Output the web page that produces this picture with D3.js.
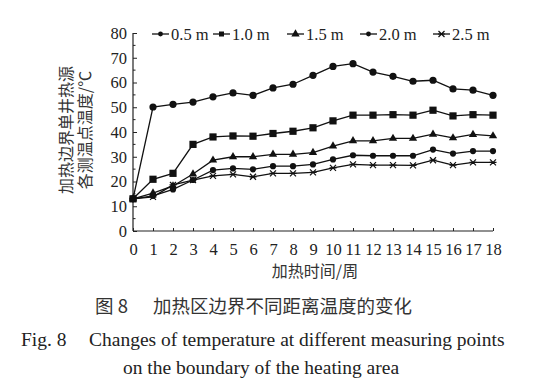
<!DOCTYPE html>
<html><head><meta charset="utf-8">
<script src="https://cdn.jsdelivr.net/npm/d3@7"></script>
<style>
html,body{margin:0;padding:0;background:#fff;}
svg{display:block;}
</style></head>
<body>
<svg id="c" width="560" height="392"></svg>
<script>
const weeks = d3.range(0, 19);
const seriesNames = ["0.5 m", "1.0 m", "1.5 m", "2.0 m", "2.5 m"];
const s05 = [13, 50.1, 51.2, 52.1, 54.2, 55.8, 54.8, 57.8, 59.3, 62.9, 66.5, 67.6, 64.2, 62.5, 60.5, 60.9, 57.4, 56.9, 54.8];
const s10 = [13, 20.9, 23.3, 35.0, 38.0, 38.4, 38.3, 39.4, 40.3, 41.7, 44.5, 46.8, 46.8, 47.0, 46.8, 48.8, 46.5, 47.0, 46.8];
const s15 = [13, 15.3, 18.2, 23.0, 28.6, 30.0, 30.0, 31.0, 31.0, 31.7, 34.3, 36.4, 36.4, 37.4, 37.4, 39.1, 37.6, 39.0, 38.4];
const s20 = [13, 14.2, 16.8, 20.6, 24.6, 25.3, 24.9, 26.2, 26.2, 26.9, 28.9, 30.6, 30.4, 30.4, 30.4, 32.9, 31.3, 32.3, 32.3];
const s25 = [13, 13.8, 18.6, 20.6, 22.3, 22.9, 21.9, 23.3, 23.3, 23.7, 25.5, 26.9, 26.6, 26.6, 26.5, 28.6, 26.6, 27.7, 27.7];
const yTicks = [0, 10, 20, 30, 40, 50, 60, 70, 80];
const xTicks = d3.range(0, 19);
const yTitle = ["加热边界单井热源", "各测温点温度/℃"];
const xTitle = "加热时间/周";
const captionCNLabel = "图 8";
const captionCN = "加热区边界不同距离温度的变化";
const captionENLabel = "Fig. 8";
const captionEN1 = "Changes of temperature at different measuring points";
const captionEN2 = "on the boundary of the heating area";

const allSeries = [s05, s10, s15, s20, s25];
const markers = ["circle", "square", "triangle", "dot", "star"];

const svg = d3.select("#c");
const serif = "'Liberation Serif','Times New Roman',serif";
const cjk = "'Noto Sans CJK SC','Noto Sans CJK JP',sans-serif";

const L = 133, R = 493, T = 33, B = 231;
const x = d3.scaleLinear().domain([0, 18]).range([L, R]);
const y = d3.scaleLinear().domain([0, 80]).range([B, T]);

// axes
const gx = svg.append("g").attr("transform", `translate(0,${B})`)
  .call(d3.axisBottom(x).tickValues(xTicks).tickSize(-3).tickPadding(12).tickFormat(d3.format("d")));
const gy = svg.append("g").attr("transform", `translate(${L},0)`)
  .call(d3.axisLeft(y).tickValues(yTicks).tickSize(-4).tickPadding(6));
// minor y ticks
svg.append("g").selectAll("line").data(d3.range(5, 80, 10)).join("line")
  .attr("x1", L).attr("x2", L + 2.5).attr("y1", d => y(d)).attr("y2", d => y(d))
  .attr("stroke", "#222").attr("stroke-width", 1);
[gx, gy].forEach(g => {
  g.attr("font-family", serif);
  g.select(".domain").attr("stroke", "#222").attr("stroke-width", 1.2);
  g.selectAll(".tick line").attr("stroke", "#222");
  g.selectAll("text").attr("font-family", serif).attr("font-size", 16.5).attr("fill", "#222");
});
gx.select(".domain").attr("d", `M${L},0H${R}`);
gy.select(".domain").attr("d", `M0,${B}V${T}`);

// marker drawer
function drawMarker(g, type, cx, cy) {
  const c = "#111";
  if (type === "circle") g.append("circle").attr("cx", cx).attr("cy", cy).attr("r", 3.6).attr("fill", c);
  else if (type === "square") g.append("rect").attr("x", cx - 3.6).attr("y", cy - 3.6).attr("width", 7.2).attr("height", 7.2).attr("fill", c);
  else if (type === "triangle") g.append("path").attr("d", d3.symbol(d3.symbolTriangle, 30)()).attr("transform", `translate(${cx},${cy})`).attr("fill", c);
  else if (type === "dot") g.append("circle").attr("cx", cx).attr("cy", cy).attr("r", 3.1).attr("fill", c);
  else if (type === "star") {
    g.append("path").attr("d", `M${cx - 3},${cy - 3}L${cx + 3},${cy + 3}M${cx - 3},${cy + 3}L${cx + 3},${cy - 3}M${cx - 3.5},${cy}L${cx + 3.5},${cy}`)
      .attr("stroke", c).attr("stroke-width", 1.2).attr("fill", "none");
  }
}

const line = d3.line().x((d, i) => x(weeks[i])).y(d => y(d));
allSeries.forEach((s, k) => {
  const g = svg.append("g");
  g.append("path").attr("d", line(s)).attr("fill", "none").attr("stroke", "#111").attr("stroke-width", 1.3);
  s.forEach((v, i) => drawMarker(g, markers[k], x(weeks[i]), y(v)));
});

// legend
const legX = [152, 213, 287, 360, 433];
const leg = svg.append("g");
seriesNames.forEach((n, k) => {
  const lx = legX[k], ly = 34;
  leg.append("line").attr("x1", lx).attr("x2", lx + 17).attr("y1", ly).attr("y2", ly).attr("stroke", "#111").attr("stroke-width", 1.3);
  const mg = leg.append("g");
  drawMarker(mg, markers[k], lx + 8.5, ly);
  leg.append("text").attr("x", lx + 19).attr("y", ly + 5.5).text(n)
    .attr("font-family", serif).attr("font-size", 16.5).attr("fill", "#222");
});
leg.selectAll("circle").attr("r", 2.4);
leg.selectAll("rect").attr("width", 5).attr("height", 5).attr("transform", "translate(1.1,1.1)");

// y title
yTitle.forEach((t, i) => {
  svg.append("text").attr("transform", `translate(${72 + i * 19},130) rotate(-90)`)
    .attr("text-anchor", "middle").attr("font-family", cjk).attr("font-size", 16).attr("fill", "#333").text(t);
});
// x title
svg.append("text").attr("x", 315).attr("y", 277).attr("text-anchor", "middle")
  .attr("font-family", cjk).attr("font-size", 16).attr("fill", "#333").text(xTitle);

// captions
svg.append("text").attr("x", 95).attr("y", 313)
  .attr("font-family", cjk).attr("font-size", 18.5).attr("fill", "#333").text(captionCNLabel);
svg.append("text").attr("x", 153).attr("y", 313)
  .attr("font-family", cjk).attr("font-size", 18.5).attr("fill", "#333").text(captionCN);
svg.append("text").attr("x", 21).attr("y", 346)
  .attr("font-family", serif).attr("font-size", 19.5).attr("fill", "#222").text(captionENLabel);
svg.append("text").attr("x", 89).attr("y", 346)
  .attr("font-family", serif).attr("font-size", 19.5).attr("fill", "#222").text(captionEN1);
svg.append("text").attr("x", 261).attr("y", 374).attr("text-anchor", "middle")
  .attr("font-family", serif).attr("font-size", 19.5).attr("fill", "#222").text(captionEN2);
</script>
</body></html>
